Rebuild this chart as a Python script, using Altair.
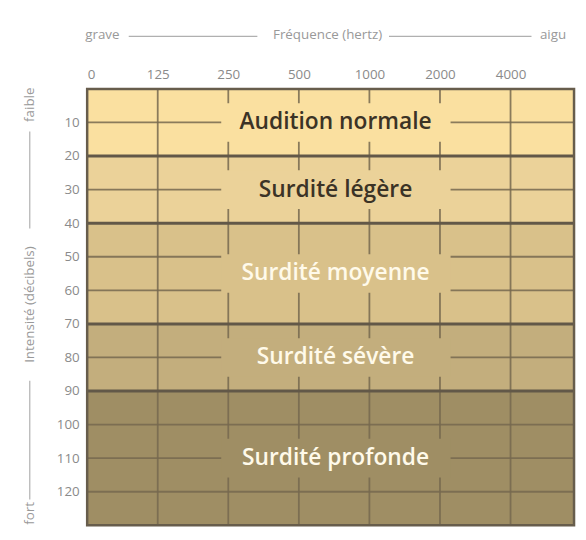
import altair as alt
import pandas as pd
import json

# ---- data ----
band_names = ["Audition normale", "Surdité légère", "Surdité moyenne", "Surdité sévère", "Surdité profonde"]
band_start = [0, 20, 40, 70, 90]
band_end = [20, 40, 70, 90, 130]
band_colors = ["#fae0a0", "#ebd299", "#d9c18a", "#c3ae7d", "#9f8e64"]
text_colors = ["#3b3326", "#3b3326", "#fffaea", "#fffaea", "#fffaea"]

freq_labels = ["0", "125", "250", "500", "1000", "2000", "4000"]
db_ticks = [10, 20, 30, 40, 50, 60, 70, 80, 90, 100, 110, 120]
thin_db = [10, 30, 50, 60, 80, 100, 110, 120]
thick_db = [20, 40, 70, 90]
freq_lines = [1, 2, 3, 4, 5, 6]

W, H = 492, 441
XMAX = 6.9

bands = pd.DataFrame({"name": band_names, "start": band_start, "end": band_end,
                      "tcol": text_colors})
bands["mid"] = (bands["start"] + bands["end"]) / 2

xscale = alt.Scale(domain=[0, XMAX], nice=False, zero=False)
yscale = alt.Scale(domain=[0, 130], reverse=True, nice=False, zero=False)
color = alt.Color("name:N", scale=alt.Scale(domain=band_names, range=band_colors), legend=None)

label_expr = json.dumps(freq_labels) + "[datum.value]"
lblcol = "#8a8a8a"

xaxis = alt.Axis(orient="top", values=list(range(len(freq_labels))), labelExpr=label_expr,
                 grid=False, ticks=False, domain=False, labelPadding=8, labelFontSize=13.5,
                 labelColor=lblcol, labelFont="Open Sans", title=None)
yaxis = alt.Axis(values=db_ticks, grid=False, ticks=False, domain=False, labelPadding=8,
                 labelFontSize=13.5, labelColor=lblcol, labelFont="Open Sans", title=None)

band_layer = alt.Chart(bands).mark_rect().encode(
    x=alt.value(0), x2=alt.value(W),
    y=alt.Y("start:Q", scale=yscale, axis=yaxis), y2="end:Q",
    color=color)

gridcol = "#75694f"
vlines = alt.Chart(pd.DataFrame({"i": freq_lines})).mark_rule(
    color=gridcol, strokeWidth=1.8, opacity=0.85).encode(
    x=alt.X("i:Q", scale=xscale, axis=xaxis), y=alt.value(0), y2=alt.value(H))

hthin = alt.Chart(pd.DataFrame({"db": thin_db})).mark_rule(
    color=gridcol, strokeWidth=1.8, opacity=0.85).encode(
    y=alt.Y("db:Q", scale=yscale), x=alt.value(0), x2=alt.value(W))

hthick = alt.Chart(pd.DataFrame({"db": thick_db})).mark_rule(
    color="#625848", strokeWidth=3).encode(
    y=alt.Y("db:Q", scale=yscale), x=alt.value(0), x2=alt.value(W))

boxes = alt.Chart(bands).transform_calculate(
    lo="datum.mid - 5.75", hi="datum.mid + 5.75").mark_rect().encode(
    x=alt.X(datum=1.9, scale=xscale), x2=alt.X2(datum=5.15),
    y=alt.Y("lo:Q", scale=yscale), y2="hi:Q", color=color)

labels = alt.Chart(bands).mark_text(font="Open Sans", fontSize=23, fontWeight=600,
                                    baseline="middle", align="center").encode(
    x=alt.X(datum=3.52, scale=xscale), y=alt.Y("mid:Q", scale=yscale),
    text="name:N", color=alt.Color("tcol:N", scale=None))

border = alt.Chart(bands.head(1)).mark_rect(fill=None, stroke="#675d4c", strokeWidth=2.5).encode(
    x=alt.value(0), x2=alt.value(W), y=alt.value(0), y2=alt.value(H))

tcol = "#999999"
tsize = 13.5
hdr = []
hdr.append(alt.Chart(bands.head(1)).mark_text(align="left", baseline="middle", fontSize=tsize,
                                              font="Open Sans", color=tcol).encode(
    x=alt.value(-2), y=alt.value(-54), text=alt.value("grave")))
hdr.append(alt.Chart(bands.head(1)).mark_text(align="center", baseline="middle", fontSize=tsize,
                                              font="Open Sans", color=tcol).encode(
    x=alt.value(243), y=alt.value(-54), text=alt.value("Fréquence (hertz)")))
hdr.append(alt.Chart(bands.head(1)).mark_text(align="right", baseline="middle", fontSize=tsize,
                                              font="Open Sans", color=tcol).encode(
    x=alt.value(484), y=alt.value(-54), text=alt.value("aigu")))
for a, b in [(42, 172), (305, 449)]:
    hdr.append(alt.Chart(bands.head(1)).mark_rule(color="#b0b0b0", strokeWidth=1.2).encode(
        x=alt.value(a), x2=alt.value(b), y=alt.value(-53)))
for t, yy in [("faible", 16), ("Intensité (décibels)", 218), ("fort", 429)]:
    hdr.append(alt.Chart(bands.head(1)).mark_text(align="center", baseline="middle", fontSize=tsize,
                                                  font="Open Sans", color=tcol, angle=270).encode(
        x=alt.value(-58), y=alt.value(yy), text=alt.value(t)))
for a, b in [(43, 141), (295, 415)]:
    hdr.append(alt.Chart(bands.head(1)).mark_rule(color="#b0b0b0", strokeWidth=1.2).encode(
        y=alt.value(a), y2=alt.value(b), x=alt.value(-58)))

chart = alt.layer(band_layer, vlines, hthin, hthick, boxes, labels, border, *hdr).properties(
    width=W, height=H,
    autosize=alt.AutoSizeParams(type="none"),
    padding={"left": 80, "top": 79, "right": 4, "bottom": 4},
    background="white",
).configure_view(stroke=None)

chart.save("out.html", embed_options={"renderer": "svg", "actions": False})
